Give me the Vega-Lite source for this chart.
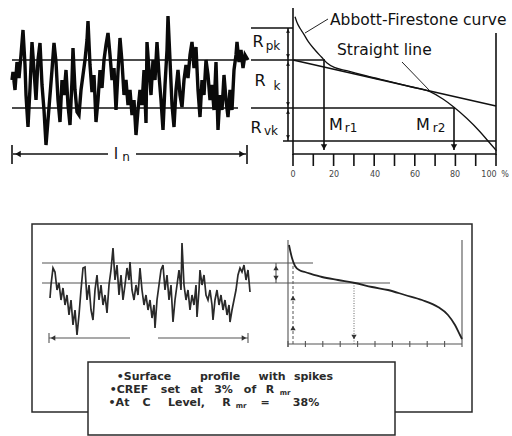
{
  "$schema": "https://vega.github.io/schema/vega-lite/v6.json",
  "width": 512,
  "height": 436,
  "autosize": {"type": "fit", "contains": "padding"},
  "padding": 0,
  "background": "white",
  "config": {"view": {"stroke": null}},
  "datasets": {
    "topProfile": [
      {"x":12,"y":80},{"x":13,"y":72},{"x":15,"y":90},{"x":17,"y":62},{"x":19,"y":78},{"x":21,"y":55},{"x":23,"y":30},{"x":25,"y":65},{"x":26,"y":95},{"x":28,"y":127},{"x":30,"y":88},{"x":32,"y":42},{"x":34,"y":70},{"x":36,"y":100},{"x":38,"y":60},{"x":40,"y":43},{"x":42,"y":85},{"x":44,"y":110},{"x":46,"y":145},{"x":48,"y":120},{"x":50,"y":95},{"x":52,"y":70},{"x":54,"y":43},{"x":56,"y":62},{"x":58,"y":100},{"x":60,"y":122},{"x":62,"y":80},{"x":64,"y":95},{"x":66,"y":70},{"x":68,"y":105},{"x":70,"y":125},{"x":72,"y":80},{"x":73,"y":48},{"x":75,"y":90},{"x":77,"y":112},{"x":79,"y":115},{"x":81,"y":90},{"x":83,"y":75},{"x":85,"y":60},{"x":87,"y":40},{"x":88,"y":21},{"x":90,"y":65},{"x":92,"y":92},{"x":94,"y":75},{"x":96,"y":122},{"x":98,"y":100},{"x":100,"y":70},{"x":102,"y":88},{"x":104,"y":60},{"x":106,"y":45},{"x":108,"y":33},{"x":110,"y":55},{"x":112,"y":80},{"x":114,"y":68},{"x":116,"y":110},{"x":118,"y":72},{"x":120,"y":38},{"x":122,"y":62},{"x":124,"y":95},{"x":126,"y":80},{"x":128,"y":105},{"x":130,"y":90},{"x":132,"y":115},{"x":134,"y":100},{"x":136,"y":135},{"x":138,"y":110},{"x":140,"y":90},{"x":142,"y":105},{"x":144,"y":70},{"x":146,"y":123},{"x":147,"y":42},{"x":149,"y":70},{"x":151,"y":95},{"x":153,"y":60},{"x":155,"y":80},{"x":157,"y":42},{"x":159,"y":75},{"x":161,"y":100},{"x":163,"y":130},{"x":165,"y":85},{"x":167,"y":50},{"x":168,"y":16},{"x":170,"y":60},{"x":172,"y":105},{"x":174,"y":127},{"x":176,"y":90},{"x":178,"y":70},{"x":180,"y":95},{"x":182,"y":107},{"x":184,"y":80},{"x":186,"y":65},{"x":188,"y":78},{"x":190,"y":55},{"x":192,"y":42},{"x":194,"y":68},{"x":196,"y":47},{"x":198,"y":90},{"x":200,"y":117},{"x":202,"y":80},{"x":204,"y":95},{"x":206,"y":60},{"x":208,"y":75},{"x":210,"y":100},{"x":212,"y":85},{"x":214,"y":110},{"x":216,"y":62},{"x":218,"y":130},{"x":220,"y":95},{"x":222,"y":110},{"x":224,"y":75},{"x":226,"y":100},{"x":228,"y":117},{"x":230,"y":90},{"x":232,"y":110},{"x":234,"y":70},{"x":236,"y":55},{"x":237,"y":42},{"x":239,"y":62},{"x":241,"y":50},{"x":243,"y":68},{"x":245,"y":55},{"x":248,"y":60}
    ],
    "bottomProfile": [
      {"x":50,"y":298},{"x":51,"y":285},{"x":53,"y":268},{"x":55,"y":272},{"x":57,"y":290},{"x":59,"y":283},{"x":61,"y":300},{"x":63,"y":288},{"x":65,"y":305},{"x":67,"y":295},{"x":69,"y":315},{"x":71,"y":300},{"x":73,"y":325},{"x":75,"y":310},{"x":77,"y":335},{"x":79,"y":315},{"x":81,"y":290},{"x":83,"y":268},{"x":85,"y":267},{"x":87,"y":300},{"x":89,"y":285},{"x":91,"y":310},{"x":93,"y":320},{"x":95,"y":290},{"x":97,"y":275},{"x":99,"y":300},{"x":101,"y":285},{"x":103,"y":305},{"x":105,"y":295},{"x":107,"y":313},{"x":109,"y":285},{"x":111,"y":270},{"x":113,"y":248},{"x":115,"y":280},{"x":117,"y":265},{"x":119,"y":295},{"x":121,"y":275},{"x":123,"y":300},{"x":125,"y":285},{"x":127,"y":268},{"x":129,"y":280},{"x":130,"y":262},{"x":132,"y":290},{"x":134,"y":300},{"x":136,"y":285},{"x":138,"y":295},{"x":140,"y":268},{"x":142,"y":290},{"x":144,"y":305},{"x":146,"y":295},{"x":148,"y":310},{"x":150,"y":300},{"x":152,"y":318},{"x":154,"y":305},{"x":155,"y":328},{"x":157,"y":300},{"x":159,"y":285},{"x":161,"y":270},{"x":163,"y":265},{"x":165,"y":290},{"x":167,"y":275},{"x":169,"y":300},{"x":171,"y":285},{"x":173,"y":322},{"x":175,"y":300},{"x":177,"y":285},{"x":179,"y":270},{"x":181,"y":290},{"x":182,"y":243},{"x":184,"y":285},{"x":186,"y":300},{"x":188,"y":290},{"x":190,"y":310},{"x":192,"y":295},{"x":194,"y":305},{"x":196,"y":285},{"x":197,"y":317},{"x":199,"y":290},{"x":200,"y":270},{"x":202,"y":285},{"x":204,"y":275},{"x":206,"y":295},{"x":208,"y":300},{"x":210,"y":290},{"x":212,"y":305},{"x":213,"y":320},{"x":215,"y":300},{"x":217,"y":290},{"x":219,"y":305},{"x":221,"y":295},{"x":223,"y":310},{"x":225,"y":300},{"x":227,"y":315},{"x":229,"y":305},{"x":230,"y":322},{"x":232,"y":310},{"x":234,"y":300},{"x":236,"y":290},{"x":238,"y":275},{"x":240,"y":268},{"x":242,"y":272},{"x":244,"y":265},{"x":246,"y":280},{"x":248,"y":270},{"x":250,"y":292}
    ],
    "abbottTop": [
      {"x":295,"y":16.7},{"x":296.7,"y":21.7},{"x":300,"y":28.3},{"x":303.3,"y":33.3},{"x":308.3,"y":41.7},{"x":315,"y":50},{"x":321.7,"y":57.3},{"x":326.7,"y":62.7},{"x":335,"y":67.7},{"x":346.7,"y":70.7},{"x":366.7,"y":76},{"x":390,"y":81.7},{"x":410,"y":86.7},{"x":430,"y":91.7},{"x":443.3,"y":99.3},{"x":454,"y":107.3},{"x":466.7,"y":118.3},{"x":480,"y":131.7},{"x":490,"y":143.3},{"x":496.5,"y":150.7}
    ],
    "abbottBottom": [
      {"x":289,"y":245},{"x":290.5,"y":252},{"x":292,"y":258},{"x":295,"y":266},{"x":300,"y":270.5},{"x":305,"y":272},{"x":322,"y":277},{"x":338,"y":280},{"x":355,"y":283},{"x":372,"y":287},{"x":388,"y":290},{"x":405,"y":295},{"x":422,"y":300},{"x":438,"y":307},{"x":448,"y":315},{"x":455,"y":325},{"x":460,"y":335},{"x":462,"y":339}
    ],
    "blackLines": [
      {"x":12,"y":60,"x2":238,"y2":60},
      {"x":12,"y":108,"x2":238,"y2":108},
      {"x":13,"y":154,"x2":108,"y2":154},
      {"x":136,"y":154,"x2":246,"y2":154},
      {"x":12,"y":145,"x2":12,"y2":164},
      {"x":247,"y":145,"x2":247,"y2":164},
      {"x":293,"y":8,"x2":293,"y2":155},
      {"x":496,"y":33,"x2":496,"y2":155},
      {"x":251,"y":28,"x2":293,"y2":28},
      {"x":251,"y":60,"x2":325,"y2":60},
      {"x":251,"y":108,"x2":455,"y2":108},
      {"x":283,"y":141,"x2":496,"y2":141},
      {"x":293,"y":154,"x2":496,"y2":154},
      {"x":324,"y":60,"x2":324,"y2":150},
      {"x":454,"y":108,"x2":454,"y2":150},
      {"x":288,"y":28,"x2":288,"y2":141},
      {"x":293,"y":60,"x2":496,"y2":106}
    ],
    "leaders": [
      {"x":328,"y":19,"x2":305,"y2":33},
      {"x":402,"y":62,"x2":430,"y2":91}
    ],
    "topTicks": [
      {"x":293,"y":154,"x2":293,"y2":166},{"x":313.3,"y":154,"x2":313.3,"y2":166},{"x":333.6,"y":154,"x2":333.6,"y2":166},{"x":353.9,"y":154,"x2":353.9,"y2":166},{"x":374.2,"y":154,"x2":374.2,"y2":166},{"x":394.5,"y":154,"x2":394.5,"y2":166},{"x":414.8,"y":154,"x2":414.8,"y2":166},{"x":435.1,"y":154,"x2":435.1,"y2":166},{"x":455.4,"y":154,"x2":455.4,"y2":166},{"x":475.7,"y":154,"x2":475.7,"y2":166},{"x":496,"y":154,"x2":496,"y2":166}
    ],
    "grayLines": [
      {"x":42,"y":263,"x2":313,"y2":263},
      {"x":42,"y":283,"x2":390,"y2":283},
      {"x":49,"y":338,"x2":130,"y2":338},
      {"x":158,"y":338,"x2":248,"y2":338},
      {"x":49,"y":333,"x2":49,"y2":343},
      {"x":248,"y":333,"x2":248,"y2":343},
      {"x":276,"y":263,"x2":276,"y2":283},
      {"x":288,"y":240,"x2":288,"y2":347},
      {"x":462,"y":240,"x2":462,"y2":347},
      {"x":288,"y":344,"x2":462,"y2":344},
      {"x":288,"y":341,"x2":288,"y2":347},{"x":305.4,"y":341,"x2":305.4,"y2":347},{"x":322.8,"y":341,"x2":322.8,"y2":347},{"x":340.2,"y":341,"x2":340.2,"y2":347},{"x":357.6,"y":341,"x2":357.6,"y2":347},{"x":375,"y":341,"x2":375,"y2":347},{"x":392.4,"y":341,"x2":392.4,"y2":347},{"x":409.8,"y":341,"x2":409.8,"y2":347},{"x":427.2,"y":341,"x2":427.2,"y2":347},{"x":444.6,"y":341,"x2":444.6,"y2":347}
    ],
    "dashedLines": [{"x":293,"y":266,"x2":293,"y2":344}],
    "dottedLines": [{"x":354,"y":283,"x2":354,"y2":344}],
    "outerBox": [{"x":32,"y":224,"x2":472,"y2":412}],
    "noteBox": [{"x":88,"y":362,"x2":395,"y2":435}],
    "arrowsTop": [
      {"x":18,"y":154,"dir":"left"},{"x":242,"y":154,"dir":"right"},
      {"x":324,"y":147,"dir":"down"},{"x":454,"y":147,"dir":"down"}
    ],
    "arrowsSmall": [
      {"x":288,"y":31,"dir":"up"},{"x":288,"y":56,"dir":"down"},{"x":288,"y":64,"dir":"up"},
      {"x":288,"y":104,"dir":"down"},{"x":288,"y":112,"dir":"up"},{"x":288,"y":137,"dir":"down"}
    ],
    "arrowsBottom": [
      {"x":276,"y":268,"dir":"up"},{"x":276,"y":278,"dir":"down"},
      {"x":293,"y":298,"dir":"up"},{"x":293,"y":328,"dir":"up"},
      {"x":354,"y":337,"dir":"down"},
      {"x":53,"y":338,"dir":"left"},{"x":244,"y":338,"dir":"right"}
    ],
    "mainLabels": [
      {"x":258,"y":42,"text":"R"},{"x":260,"y":81,"text":"R"},{"x":256,"y":128,"text":"R"},
      {"x":336,"y":125,"text":"M"},{"x":423,"y":125,"text":"M"},{"x":116,"y":154,"text":"l"}
    ],
    "subLabels": [
      {"x":273,"y":46,"text":"pk"},{"x":277,"y":86,"text":"k"},{"x":271,"y":131,"text":"vk"},
      {"x":351,"y":128,"text":"r1"},{"x":439,"y":128,"text":"r2"},{"x":126,"y":157,"text":"n"}
    ],
    "captions": [
      {"x":330,"y":20,"text":"Abbott-Firestone curve"},
      {"x":337,"y":50,"text":"Straight line"}
    ],
    "tickLabels": [
      {"x":293,"y":175,"text":"0"},{"x":334,"y":175,"text":"20"},{"x":375,"y":175,"text":"40"},
      {"x":415,"y":175,"text":"60"},{"x":455,"y":175,"text":"80"},{"x":489,"y":175,"text":"100"},{"x":505,"y":175,"text":"%"}
    ],
    "noteWords": [
      {"x":144,"y":377,"text":"•Surface"},{"x":220,"y":377,"text":"profile"},{"x":272,"y":377,"text":"with"},{"x":313.5,"y":377,"text":"spikes"},
      {"x":129,"y":390,"text":"•CREF"},{"x":170.5,"y":390,"text":"set"},{"x":196.5,"y":390,"text":"at"},{"x":223.5,"y":390,"text":"3%"},{"x":250,"y":390,"text":"of"},{"x":270,"y":390,"text":"R"},
      {"x":119,"y":403,"text":"•At"},{"x":146.5,"y":403,"text":"C"},{"x":186.5,"y":403,"text":"Level,"},{"x":226.5,"y":403,"text":"R"},{"x":265,"y":403,"text":"="},{"x":306,"y":403,"text":"38%"}
    ],
    "noteSubs": [
      {"x":285,"y":392.5,"text":"mr"},
      {"x":241,"y":405.5,"text":"mr"}
    ]
  },
  "encoding": {
    "x": {"field": "x", "type": "quantitative", "scale": {"domain": [0, 512], "nice": false, "zero": false}, "axis": null},
    "y": {"field": "y", "type": "quantitative", "scale": {"domain": [0, 436], "nice": false, "zero": false, "reverse": true}, "axis": null}
  },
  "layer": [
    {
      "data": {"name": "outerBox"},
      "mark": {"type": "rect", "filled": false, "stroke": "#2a2a2a", "strokeWidth": 1.5},
      "encoding": {"x2": {"field": "x2"}, "y2": {"field": "y2"}}
    },
    {
      "data": {"name": "noteBox"},
      "mark": {"type": "rect", "fill": "white", "stroke": "#2a2a2a", "strokeWidth": 1.5},
      "encoding": {"x2": {"field": "x2"}, "y2": {"field": "y2"}}
    },
    {
      "data": {"name": "blackLines"},
      "mark": {"type": "rule", "color": "#111", "strokeWidth": 1.6},
      "encoding": {"x2": {"field": "x2"}, "y2": {"field": "y2"}}
    },
    {
      "data": {"name": "leaders"},
      "mark": {"type": "rule", "color": "#222", "strokeWidth": 1},
      "encoding": {"x2": {"field": "x2"}, "y2": {"field": "y2"}}
    },
    {
      "data": {"name": "topTicks"},
      "mark": {"type": "rule", "color": "#111", "strokeWidth": 1.6},
      "encoding": {"x2": {"field": "x2"}, "y2": {"field": "y2"}}
    },
    {
      "data": {"name": "grayLines"},
      "mark": {"type": "rule", "color": "#555", "strokeWidth": 1.1},
      "encoding": {"x2": {"field": "x2"}, "y2": {"field": "y2"}}
    },
    {
      "data": {"name": "dashedLines"},
      "mark": {"type": "rule", "color": "#555", "strokeWidth": 1, "strokeDash": [3, 2]},
      "encoding": {"x2": {"field": "x2"}, "y2": {"field": "y2"}}
    },
    {
      "data": {"name": "dottedLines"},
      "mark": {"type": "rule", "color": "#666", "strokeWidth": 1, "strokeDash": [1, 1.5]},
      "encoding": {"x2": {"field": "x2"}, "y2": {"field": "y2"}}
    },
    {
      "data": {"name": "topProfile"},
      "mark": {"type": "line", "color": "#0a0a0a", "strokeWidth": 3.4, "strokeJoin": "miter"}
    },
    {
      "data": {"name": "bottomProfile"},
      "mark": {"type": "line", "color": "#2a2a2a", "strokeWidth": 1.7}
    },
    {
      "data": {"name": "abbottTop"},
      "mark": {"type": "line", "color": "#111", "strokeWidth": 1.3, "interpolate": "monotone"}
    },
    {
      "data": {"name": "abbottBottom"},
      "mark": {"type": "line", "color": "#222", "strokeWidth": 1.8, "interpolate": "monotone"}
    },
    {
      "data": {"name": "arrowsTop"},
      "mark": {"type": "point", "filled": true, "color": "#111", "size": 40, "opacity": 1},
      "encoding": {"shape": {"field": "dir", "type": "nominal", "scale": {"domain": ["up", "down", "left", "right"], "range": ["triangle-up", "triangle-down", "triangle-left", "triangle-right"]}, "legend": null}}
    },
    {
      "data": {"name": "arrowsSmall"},
      "mark": {"type": "point", "filled": true, "color": "#111", "size": 16, "opacity": 1},
      "encoding": {"shape": {"field": "dir", "type": "nominal", "scale": {"domain": ["up", "down", "left", "right"], "range": ["triangle-up", "triangle-down", "triangle-left", "triangle-right"]}, "legend": null}}
    },
    {
      "data": {"name": "arrowsBottom"},
      "mark": {"type": "point", "filled": true, "color": "#333", "size": 28, "opacity": 1},
      "encoding": {"shape": {"field": "dir", "type": "nominal", "scale": {"domain": ["up", "down", "left", "right"], "range": ["triangle-up", "triangle-down", "triangle-left", "triangle-right"]}, "legend": null}}
    },
    {
      "data": {"name": "mainLabels"},
      "mark": {"type": "text", "font": "DejaVu Sans", "fontSize": 16, "color": "#111", "align": "center", "baseline": "middle"},
      "encoding": {"text": {"field": "text"}}
    },
    {
      "data": {"name": "subLabels"},
      "mark": {"type": "text", "font": "DejaVu Sans", "fontSize": 12, "color": "#111", "align": "center", "baseline": "middle"},
      "encoding": {"text": {"field": "text"}}
    },
    {
      "data": {"name": "captions"},
      "mark": {"type": "text", "font": "DejaVu Sans", "fontSize": 15.5, "color": "#111", "align": "left", "baseline": "middle"},
      "encoding": {"text": {"field": "text"}}
    },
    {
      "data": {"name": "tickLabels"},
      "mark": {"type": "text", "font": "DejaVu Sans", "fontSize": 8, "color": "#444", "align": "center", "baseline": "middle"},
      "encoding": {"text": {"field": "text"}}
    },
    {
      "data": {"name": "noteWords"},
      "mark": {"type": "text", "font": "DejaVu Sans", "fontSize": 11, "fontWeight": "bold", "color": "#2a2a2a", "align": "center", "baseline": "middle"},
      "encoding": {"text": {"field": "text"}}
    },
    {
      "data": {"name": "noteSubs"},
      "mark": {"type": "text", "font": "DejaVu Sans", "fontSize": 7, "fontWeight": "bold", "color": "#2a2a2a", "align": "center", "baseline": "middle"},
      "encoding": {"text": {"field": "text"}}
    }
  ]
}
